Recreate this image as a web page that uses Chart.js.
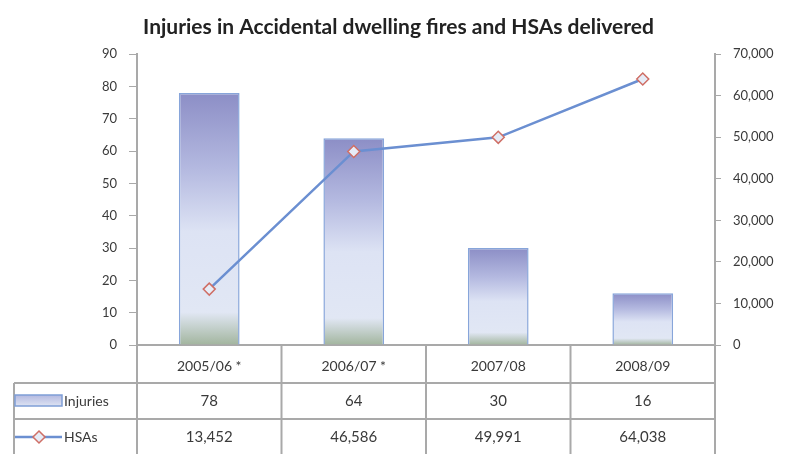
<!DOCTYPE html>
<html>
<head>
<meta charset="utf-8">
<script src="https://cdn.jsdelivr.net/npm/chart.js@4.4.1/dist/chart.umd.min.js"></script>
<style>
  body { margin: 0; background: #fff; }
  #wrap { width: 797px; height: 454px; position: relative; }
</style>
</head>
<body>
<div id="wrap"><canvas id="injuryChart"></canvas></div>
<script>
const years = ['2005/06 *', '2006/07 *', '2007/08', '2008/09'];
const injuries = [78, 64, 30, 16];
const hsas = [13452, 46586, 49991, 64038];

const FONT = 'Lato, "Open Sans", sans-serif';
const TEXT = '#3a3a3a';
const GRID = '#a9a9a9';

function barFill(context) {
  const chart = context.chart;
  const y = chart.scales.y;
  const v = context.raw;
  if (!chart.chartArea || v == null) return '#c9cfec';
  const top = y.getPixelForValue(v);
  const base = y.getPixelForValue(0);
  const g = chart.ctx.createLinearGradient(0, top, 0, base);
  g.addColorStop(0, '#8c8ec6');
  g.addColorStop(0.3, '#b4b9e0');
  g.addColorStop(0.55, '#dde3f4');
  g.addColorStop(0.87, '#e1e7f4');
  g.addColorStop(1, '#a2b59e');
  return g;
}

// draws the data table under the plot
const tablePlugin = {
  id: 'dataTable',
  afterDraw(chart) {
    const ctx = chart.ctx;
    const x = chart.scales.x;
    const area = chart.chartArea;
    const row1 = 383, row2 = 419, bottom = 454, left = 14;
    const step = (area.right - area.left) / years.length;

    ctx.save();
    ctx.strokeStyle = GRID;
    ctx.lineWidth = 2;
    ctx.beginPath();
    ctx.moveTo(left, row1); ctx.lineTo(area.right, row1);
    ctx.moveTo(left, row2); ctx.lineTo(area.right, row2);
    ctx.moveTo(left, row1); ctx.lineTo(left, bottom);
    for (let i = 0; i <= years.length; i++) {
      const px = area.left + i * step;
      ctx.moveTo(px, area.bottom); ctx.lineTo(px, bottom);
    }
    ctx.stroke();

    ctx.fillStyle = TEXT;
    ctx.font = '15px ' + FONT;
    ctx.textAlign = 'center';
    ctx.textBaseline = 'middle';
    years.forEach((yr, i) => {
      const cx = x.getPixelForValue(i);
      ctx.fillText(String(injuries[i]), cx, 401);
      ctx.fillText(hsas[i].toLocaleString('en-US'), cx, 437);
    });

    // legend keys
    const sw = ctx.createLinearGradient(0, 395, 0, 407);
    sw.addColorStop(0, '#b4b9e0');
    sw.addColorStop(1, '#e1e7f4');
    ctx.fillStyle = sw;
    ctx.fillRect(15, 395, 47, 11);
    ctx.strokeStyle = '#7f9ed6';
    ctx.lineWidth = 1.5;
    ctx.strokeRect(15, 395, 47, 11);

    ctx.strokeStyle = '#6b8fd1';
    ctx.lineWidth = 2.5;
    ctx.beginPath();
    ctx.moveTo(15, 437); ctx.lineTo(62, 437);
    ctx.stroke();
    ctx.beginPath();
    ctx.moveTo(39, 431); ctx.lineTo(45, 437); ctx.lineTo(39, 443); ctx.lineTo(33, 437);
    ctx.closePath();
    ctx.fillStyle = '#e6ecf7';
    ctx.fill();
    ctx.strokeStyle = '#cf6f66';
    ctx.lineWidth = 1.5;
    ctx.stroke();

    ctx.fillStyle = TEXT;
    ctx.textAlign = 'left';
    ctx.font = '14px ' + FONT;
    ctx.fillText('Injuries', 64, 401);
    ctx.fillText('HSAs', 64, 437);
    ctx.restore();
  }
};

const ctx = document.getElementById('injuryChart').getContext('2d');

new Chart(ctx, {
  data: {
    labels: years,
    datasets: [
      {
        type: 'line',
        label: 'HSAs',
        data: hsas,
        yAxisID: 'y1',
        order: 0,
        borderColor: '#6b8fd1',
        borderWidth: 2.5,
        pointStyle: 'rectRot',
        pointRadius: 6,
        pointBorderColor: '#cf6f66',
        pointBackgroundColor: '#e6ecf7',
        pointBorderWidth: 1.5,
        tension: 0
      },
      {
        type: 'bar',
        label: 'Injuries',
        data: injuries,
        yAxisID: 'y',
        order: 1,
        backgroundColor: barFill,
        borderColor: '#87a5da',
        borderWidth: 1.5,
        barPercentage: 0.42,
        categoryPercentage: 1
      }
    ]
  },
  options: {
    responsive: true,
    maintainAspectRatio: false,
    animation: false,
    layout: { padding: 0 },
    plugins: {
      legend: { display: false },
      tooltip: { enabled: false },
      title: {
        display: true,
        text: 'Injuries in Accidental dwelling fires and HSAs delivered',
        color: '#222',
        font: { family: FONT, size: 21, weight: 'bold' },
        padding: { top: 15, bottom: 14 }
      }
    },
    scales: {
      x: {
        grid: { display: false },
        border: { display: true, color: GRID, width: 2 },
        ticks: { color: TEXT, font: { family: FONT, size: 14 }, padding: 5 },
        afterFit: s => { s.height = 109; }
      },
      y: {
        position: 'left',
        min: 0,
        max: 90,
        ticks: { stepSize: 10, color: TEXT, font: { family: FONT, size: 13 }, padding: 12 },
        grid: { drawOnChartArea: false, tickLength: 8, color: GRID },
        border: { color: GRID, width: 2 },
        afterFit: s => { s.width = 137; }
      },
      y1: {
        position: 'right',
        min: 0,
        max: 70000,
        ticks: {
          stepSize: 10000,
          color: TEXT,
          font: { family: FONT, size: 13 },
          padding: 12,
          callback: v => v.toLocaleString('en-US')
        },
        grid: { drawOnChartArea: false, tickLength: 6, color: GRID },
        border: { color: GRID, width: 2 },
        afterFit: s => { s.width = 82; }
      }
    }
  },
  plugins: [tablePlugin]
});
</script>
</body>
</html>
